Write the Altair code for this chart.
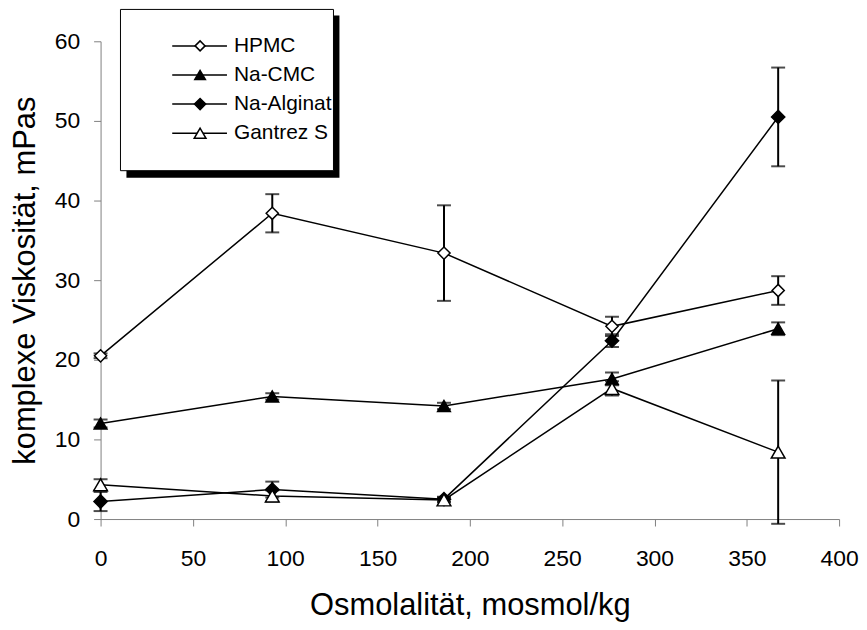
import altair as alt
import pandas as pd

# ---- data ----
osmolality = [0, 93, 186, 277, 367]
series_names = ["HPMC", "Na-CMC", "Na-Alginat", "Gantrez S"]

hpmc_mean = [20.5, 38.4, 33.4, 24.2, 28.7]
hpmc_sd = [0.3, 2.4, 6.0, 1.2, 1.8]
cmc_mean = [12.0, 15.4, 14.2, 17.6, 23.9]
cmc_sd = [0.5, 0.4, 0.4, 0.8, 0.8]
alg_mean = [2.2, 3.7, 2.5, 22.4, 50.5]
alg_sd = [1.2, 1.0, 0.3, 0.8, 6.2]
gan_mean = [4.3, 2.9, 2.4, 16.4, 8.4]
gan_sd = [0.7, 0.7, 0.3, 0.9, 9.0]

x_ticks = [0, 50, 100, 150, 200, 250, 300, 350, 400]
y_ticks = [0, 10, 20, 30, 40, 50, 60]

# ---- tables ----
means = [hpmc_mean, cmc_mean, alg_mean, gan_mean]
sds = [hpmc_sd, cmc_sd, alg_sd, gan_sd]
rows = []
for name, m, s in zip(series_names, means, sds):
    for xv, mv, sv in zip(osmolality, m, s):
        rows.append({"series": name, "x": xv, "mean": mv, "lo": mv - sv, "hi": mv + sv})
df = pd.DataFrame(rows)
leg_df = pd.DataFrame({"series": series_names})
one = pd.DataFrame({"a": [0]})

FONT = "Liberation Sans"

shape_scale = alt.Scale(domain=series_names,
                        range=["diamond", "triangle-up", "diamond", "triangle-up"])
fill_scale = alt.Scale(domain=series_names, range=["white", "black", "black", "white"])

x_enc = alt.X("x:Q", scale=alt.Scale(domain=[0, 400], nice=False),
              axis=alt.Axis(values=x_ticks, title="Osmolalität, mosmol/kg", grid=False,
                            tickSize=7, labelPadding=40, labelBaseline="alphabetic",
                            labelFlush=False, titleFontSize=31,
                            titleY=96, titleBaseline="alphabetic"))
y_enc = alt.Y("mean:Q", scale=alt.Scale(domain=[0, 60], nice=False),
              axis=alt.Axis(values=y_ticks, title="komplexe Viskosität, mPas", grid=False,
                            tickSize=7, labelPadding=14, labelFlush=False,
                            titleFontSize=31,
                            titleX=-75, titleY=240, titleAngle=270,
                            titleAlign="center", titleBaseline="middle"))

base = alt.Chart(df)
lines = base.mark_line(color="black", strokeWidth=1.5).encode(
    x=x_enc, y=y_enc, detail="series:N")
err = base.mark_rule(color="black", strokeWidth=2).encode(
    x="x:Q", y="lo:Q", y2="hi:Q")
cap_lo = base.mark_tick(color="black", orient="horizontal", size=14, thickness=2).encode(
    x="x:Q", y="lo:Q")
cap_hi = base.mark_tick(color="black", orient="horizontal", size=14, thickness=2).encode(
    x="x:Q", y="hi:Q")
points = base.mark_point(filled=True, stroke="black", strokeWidth=1.5, opacity=1).encode(
    x="x:Q", y="mean:Q",
    shape=alt.Shape("series:N", scale=shape_scale, legend=None),
    fill=alt.Fill("series:N", scale=fill_scale, legend=None),
    size=alt.Size("series:N", scale=alt.Scale(domain=series_names, range=[150, 190, 150, 190]),
                  legend=None),
)
main = alt.layer(lines, err, cap_lo, cap_hi, points)

# ---- legend box (drawn like the Excel legend) ----
ly = alt.Y("series:N", scale=alt.Scale(domain=series_names, range=[-10, 107], padding=0),
           axis=None)
shadow = alt.Chart(one).mark_rect(color="black").encode(
    x=alt.value(26), x2=alt.value(240), y=alt.value(-26), y2=alt.value(137))
box = alt.Chart(one).mark_rect(fill="white", stroke="black", strokeWidth=1).encode(
    x=alt.value(20), x2=alt.value(234), y=alt.value(-32), y2=alt.value(130))
leg_line = alt.Chart(leg_df).mark_rule(color="black", strokeWidth=1.5).encode(
    x=alt.value(72), x2=alt.value(127), y=ly)
leg_pt = alt.Chart(leg_df).mark_point(filled=True, stroke="black", strokeWidth=1.5, opacity=1).encode(
    x=alt.value(100), y=ly,
    shape=alt.Shape("series:N", scale=shape_scale, legend=None),
    fill=alt.Fill("series:N", scale=fill_scale, legend=None),
    size=alt.Size("series:N", scale=alt.Scale(domain=series_names, range=[100, 140, 100, 140]),
                  legend=None),
)
leg_text = alt.Chart(leg_df).mark_text(align="left", baseline="middle", fontSize=21,
                                       font=FONT, color="black").encode(
    x=alt.value(134), y=ly, text="series:N")
legend = alt.layer(shadow, box, leg_line, leg_pt, leg_text)

chart = alt.layer(main, legend).resolve_scale(y="independent", size="independent").properties(
    width=742, height=480,
    background="white",
    autosize=alt.AutoSizeParams(type="none"),
    padding={"left": 93, "top": 32, "right": 20, "bottom": 102},
).configure_view(strokeWidth=0).configure_axis(
    domainColor="#808080", tickColor="#808080", domainWidth=1, tickWidth=1,
    labelFont=FONT, labelFontSize=23, labelColor="black",
    titleFont=FONT, titleColor="black", titleFontWeight="normal",
)

chart.save("out.html", embed_options={"renderer": "svg", "actions": False})
